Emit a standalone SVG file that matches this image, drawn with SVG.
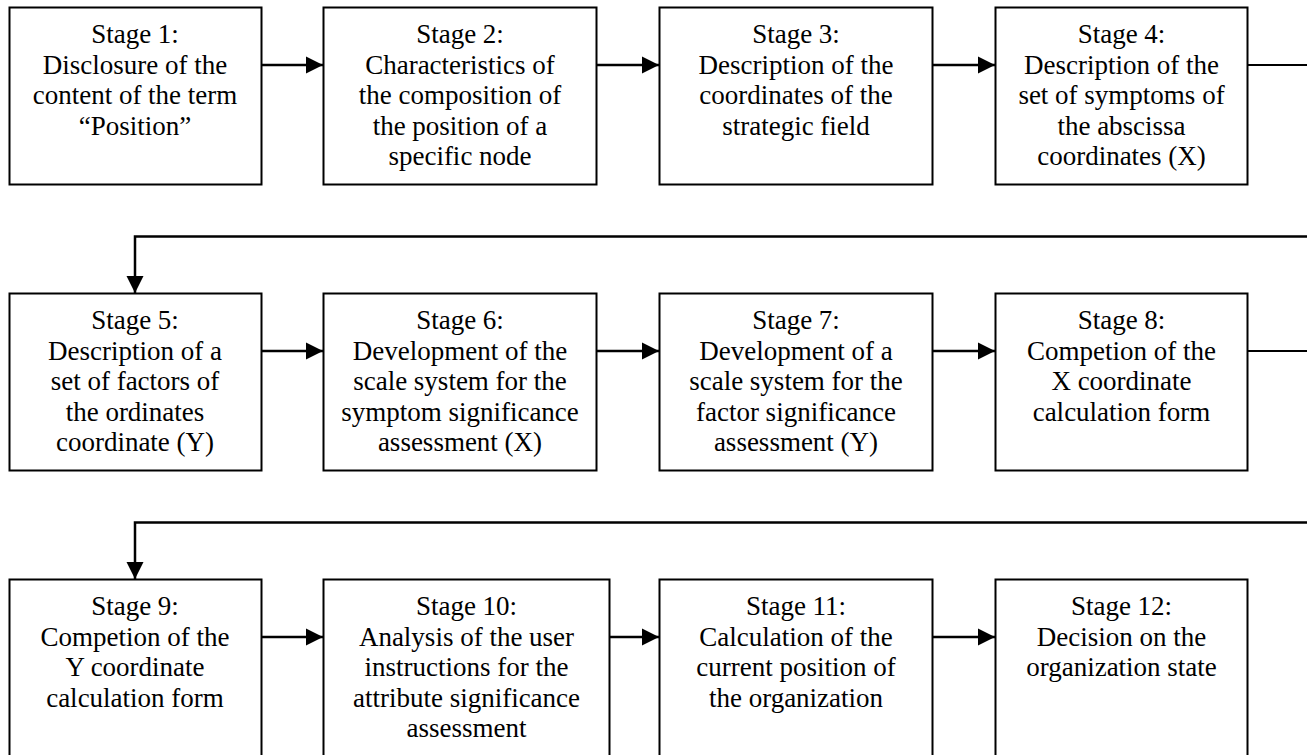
<svg xmlns="http://www.w3.org/2000/svg" width="1307" height="755" viewBox="0 0 1307 755">
<style>
.box{fill:#fff;stroke:#000;stroke-width:2}
.t{font-family:'Liberation Serif','Tinos','DejaVu Serif','Noto Serif','Times New Roman',Times,serif;font-size:27px;fill:#000;text-anchor:middle}
.c{fill:none;stroke:#000;stroke-width:2.5}
.w{fill:none;stroke:#000;stroke-width:2}
</style>
<defs>
<marker id="ah" markerUnits="userSpaceOnUse" markerWidth="18" markerHeight="18" refX="17" refY="9" orient="auto">
<path d="M0,0.5 L17,9 L0,17.5 Z" fill="#000"/>
</marker>
</defs>
<rect width="1307" height="755" fill="#fff"/>
<g id="connectors">
<line class="c" x1="261" y1="65" x2="323" y2="65" marker-end="url(#ah)"/>
<line class="c" x1="597" y1="65" x2="659" y2="65" marker-end="url(#ah)"/>
<line class="c" x1="933" y1="65" x2="995" y2="65" marker-end="url(#ah)"/>
<line class="w" x1="1248" y1="65" x2="1307" y2="65"/>
<polyline class="c" points="1307,236.5 135,236.5 135,293" marker-end="url(#ah)"/>
<line class="c" x1="261" y1="351" x2="323" y2="351" marker-end="url(#ah)"/>
<line class="c" x1="597" y1="351" x2="659" y2="351" marker-end="url(#ah)"/>
<line class="c" x1="933" y1="351" x2="995" y2="351" marker-end="url(#ah)"/>
<line class="w" x1="1248" y1="351" x2="1307" y2="351"/>
<polyline class="c" points="1307,522.5 135,522.5 135,579" marker-end="url(#ah)"/>
<line class="c" x1="261" y1="637" x2="323" y2="637" marker-end="url(#ah)"/>
<line class="c" x1="610" y1="637" x2="659" y2="637" marker-end="url(#ah)"/>
<line class="c" x1="933" y1="637" x2="995" y2="637" marker-end="url(#ah)"/>
</g>
<g id="stage1">
<rect class="box" x="9.5" y="7.5" width="252" height="177"/>
<text class="t" font-family="Liberation Serif, serif"><tspan x="135" y="43">Stage 1:</tspan><tspan x="135" y="73.5">Disclosure of the</tspan><tspan x="135" y="104">content of the term</tspan><tspan x="135" y="134.5">“Position”</tspan></text>
</g>
<g id="stage2">
<rect class="box" x="323.5" y="7.5" width="273" height="177"/>
<text class="t"><tspan x="460" y="43">Stage 2:</tspan><tspan x="460" y="73.5">Characteristics of</tspan><tspan x="460" y="104">the composition of</tspan><tspan x="460" y="134.5">the position of a</tspan><tspan x="460" y="165">specific node</tspan></text>
</g>
<g id="stage3">
<rect class="box" x="659.5" y="7.5" width="273" height="177"/>
<text class="t"><tspan x="796" y="43">Stage 3:</tspan><tspan x="796" y="73.5">Description of the</tspan><tspan x="796" y="104">coordinates of the</tspan><tspan x="796" y="134.5">strategic field</tspan></text>
</g>
<g id="stage4">
<rect class="box" x="995.5" y="7.5" width="252" height="177"/>
<text class="t"><tspan x="1121.5" y="43">Stage 4:</tspan><tspan x="1121.5" y="73.5">Description of the</tspan><tspan x="1121.5" y="104">set of symptoms of</tspan><tspan x="1121.5" y="134.5">the abscissa</tspan><tspan x="1121.5" y="165">coordinates (X)</tspan></text>
</g>
<g id="stage5">
<rect class="box" x="9.5" y="293.5" width="252" height="177"/>
<text class="t"><tspan x="135" y="329">Stage 5:</tspan><tspan x="135" y="359.5">Description of a</tspan><tspan x="135" y="390">set of factors of</tspan><tspan x="135" y="420.5">the ordinates</tspan><tspan x="135" y="451">coordinate (Y)</tspan></text>
</g>
<g id="stage6">
<rect class="box" x="323.5" y="293.5" width="273" height="177"/>
<text class="t"><tspan x="460" y="329">Stage 6:</tspan><tspan x="460" y="359.5">Development of the</tspan><tspan x="460" y="390">scale system for the</tspan><tspan x="460" y="420.5">symptom significance</tspan><tspan x="460" y="451">assessment (X)</tspan></text>
</g>
<g id="stage7">
<rect class="box" x="659.5" y="293.5" width="273" height="177"/>
<text class="t"><tspan x="796" y="329">Stage 7:</tspan><tspan x="796" y="359.5">Development of a</tspan><tspan x="796" y="390">scale system for the</tspan><tspan x="796" y="420.5">factor significance</tspan><tspan x="796" y="451">assessment (Y)</tspan></text>
</g>
<g id="stage8">
<rect class="box" x="995.5" y="293.5" width="252" height="177"/>
<text class="t"><tspan x="1121.5" y="329">Stage 8:</tspan><tspan x="1121.5" y="359.5">Competion of the</tspan><tspan x="1121.5" y="390">X coordinate</tspan><tspan x="1121.5" y="420.5">calculation form</tspan></text>
</g>
<g id="stage9">
<rect class="box" x="9.5" y="579.5" width="252" height="200"/>
<text class="t"><tspan x="135" y="615">Stage 9:</tspan><tspan x="135" y="645.5">Competion of the</tspan><tspan x="135" y="676">Y coordinate</tspan><tspan x="135" y="706.5">calculation form</tspan></text>
</g>
<g id="stage10">
<rect class="box" x="323.5" y="579.5" width="286" height="200"/>
<text class="t"><tspan x="466.5" y="615">Stage 10:</tspan><tspan x="466.5" y="645.5">Analysis of the user</tspan><tspan x="466.5" y="676">instructions for the</tspan><tspan x="466.5" y="706.5">attribute significance</tspan><tspan x="466.5" y="737">assessment</tspan></text>
</g>
<g id="stage11">
<rect class="box" x="659.5" y="579.5" width="273" height="200"/>
<text class="t"><tspan x="796" y="615">Stage 11:</tspan><tspan x="796" y="645.5">Calculation of the</tspan><tspan x="796" y="676">current position of</tspan><tspan x="796" y="706.5">the organization</tspan></text>
</g>
<g id="stage12">
<rect class="box" x="995.5" y="579.5" width="252" height="200"/>
<text class="t"><tspan x="1121.5" y="615">Stage 12:</tspan><tspan x="1121.5" y="645.5">Decision on the</tspan><tspan x="1121.5" y="676">organization state</tspan></text>
</g>
</svg>
